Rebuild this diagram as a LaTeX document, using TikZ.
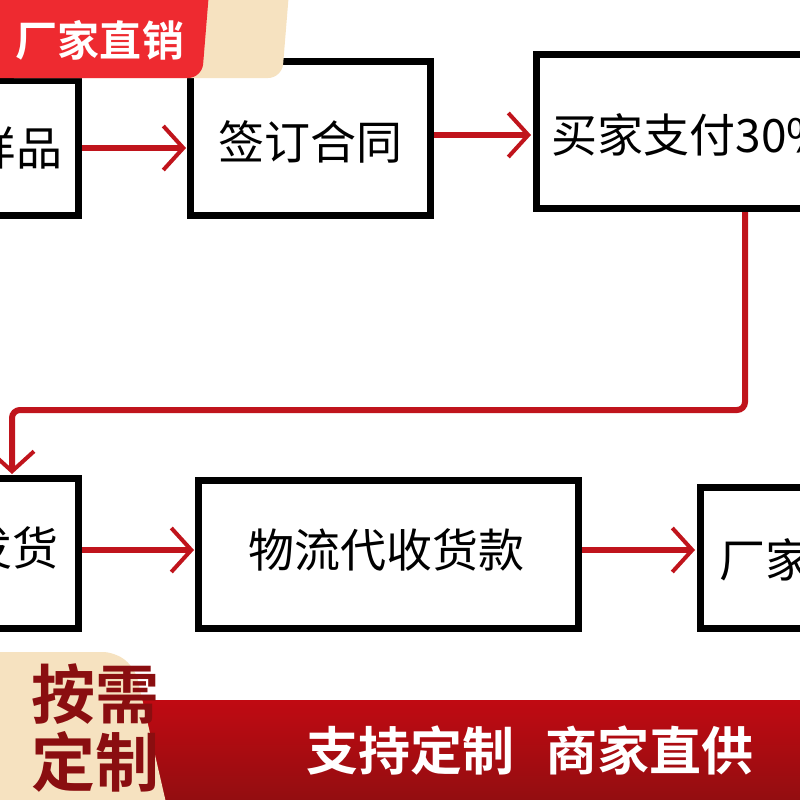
\documentclass[tikz,border=0pt]{standalone}
\usepackage{fontspec}
\setmainfont{Noto Sans CJK SC}
\newfontfamily\cjkb{Noto Sans CJK SC Bold}
\usetikzlibrary{arrows.meta}
\definecolor{arr}{HTML}{C0141C}
\definecolor{beige}{HTML}{F6E2C0}
\definecolor{bred}{HTML}{C00A12}
\definecolor{dred}{HTML}{8A0E10}
\definecolor{badgered}{HTML}{EE2A30}
\begin{document}
\begin{tikzpicture}[x=1pt,y=-1pt,
  box/.style={draw=black,line width=7pt,fill=white},
  lab/.style={font=\fontsize{46}{46}\selectfont},
  con/.style={draw=arr,line width=6pt,-{Straight Barb[length=20pt,width=44pt,line width=4pt]}}]
\useasboundingbox (0,0) rectangle (800,800);
\clip (0,0) rectangle (800,800);
% boxes
\draw[box] (-80,80) rectangle (78,215);
\node[lab,anchor=east] (t1) at (66,148) {样品};
\draw[box] (190,62) rectangle (430,215);
\node[lab] (t2) at (310,142) {签订合同};
\draw[box] (536,55) rectangle (830,208);
\node[lab,anchor=west] (t3) at (548,135) {买家支付30\%定金};
\draw[box] (-80,478) rectangle (78,628);
\node[lab,anchor=east] (t4) at (62,548) {发货};
\draw[box] (198,480) rectangle (578,628);
\node[lab] (t5) at (386,550) {物流代收货款};
\draw[box] (700,487) rectangle (830,628);
\node[lab,anchor=west] (t6) at (716,560) {厂家收款};
% connectors
\coordinate (a1s) at (82,148); \coordinate (a1e) at (186,148);
\draw[con] (a1s) -- (a1e);
\coordinate (a2s) at (434,135); \coordinate (a2e) at (531,135);
\draw[con] (a2s) -- (a2e);
\coordinate (a3s) at (745,212); \coordinate (a3m) at (745,410);
\coordinate (a3n) at (12,410); \coordinate (a3e) at (12,474);
\draw[con,rounded corners=8pt] (a3s) -- (a3m) -- (a3n) -- (a3e);
\coordinate (a4s) at (82,550); \coordinate (a4e) at (194,550);
\draw[con] (a4s) -- (a4e);
\coordinate (a5s) at (582,550); \coordinate (a5e) at (695,550);
\draw[con] (a5s) -- (a5e);
% top badge
\fill[beige,rounded corners=14pt] (0,-20) -- (290,-20) -- (282,78) -- (0,78) -- cycle;
\fill[badgered,rounded corners=14pt] (-20,-20) -- (210,-20) -- (202,78) -- (-20,78) -- cycle;
\node[font=\cjkb\fontsize{42}{42}\selectfont,text=white] (badge) at (100,40) {厂家直销};
% bottom banner
\shade[top color=bred,bottom color=dred] (130,700) rectangle (800,820);
\fill[beige,rounded corners=12pt] (-20,652) -- (115,652) -- (135,668) -- (170,820) -- (-20,820) -- cycle;
\node[font=\cjkb\fontsize{64}{68}\selectfont,text=dred,align=center] (ax) at (95,728) {按需\\定制};
\node[font=\cjkb\fontsize{52}{52}\selectfont,text=white] (ban) at (530,750) {支持定制\hspace{0.6em}商家直供};
\end{tikzpicture}
\end{document}
